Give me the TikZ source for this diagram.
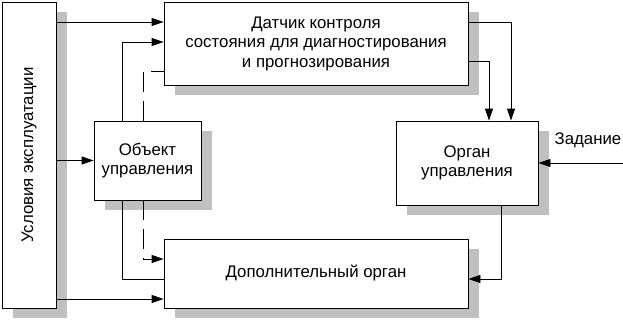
\documentclass[tikz,border=0pt]{standalone}
\usepackage{fontspec}
\setmainfont{Liberation Sans}
\usetikzlibrary{positioning,arrows.meta,shadows}
\definecolor{shadowgray}{RGB}{192,192,192}

\begin{document}
\begin{tikzpicture}[x=1pt,y=1pt,>={Triangle[length=12pt,width=8pt]},line width=0.9pt,
  blok/.style={draw,fill=white,align=center,inner sep=0pt,font=\fontsize{16.8}{19.5}\selectfont,
    drop shadow={shadow xshift=11pt,shadow yshift=-10pt,fill=shadowgray,opacity=1}},
  dashline/.style={dash pattern=on 20pt off 9pt}]
  \useasboundingbox (0,0) rectangle (623,322);
  \node[blok,minimum width=54pt,minimum height=306pt] (usl) at (29,167) {\rotatebox{90}{Условия эксплуатации}};
  \node[blok,minimum width=304pt,minimum height=83pt] (sensor) at (316,278.5) {Датчик контроля\\состояния для диагностирования\\и прогнозирования};
  \node[blok,minimum width=107pt,minimum height=79pt] (obj) at (147.5,161.5) {Объект\\управления};
  \node[blok,minimum width=142pt,minimum height=84pt] (organ) at (467,159) {Орган\\управления};
  \node[blok,minimum width=304pt,minimum height=69pt] (extra) at (316,48.5) {Дополнительный орган};
  % inputs of the sensor
  \draw[->] (usl.east |- 0,300) -- (sensor.west |- 0,300);
  \draw[->] ([xshift=-25.5pt]obj.north) |- (sensor.west |- 0,280);
  \draw[dashline] ([xshift=-4.5pt]obj.north) |- (sensor.west |- 0,251);
  \draw[->] (usl.east |- obj.west) -- (obj.west);
  % inputs of the additional organ
  \draw ([xshift=-25.5pt]obj.south) |- (extra.west |- 0,43);
  \draw[dashline,->] ([xshift=-4.5pt]obj.south) |- (extra.west |- 0,63);
  \draw[->] (usl.east |- 0,23) -- (extra.west |- 0,23);
  % control organ
  \draw[->] (sensor.east |- 0,300) -| ([xshift=44pt]organ.north);
  \draw[->] (sensor.east |- 0,261) -| ([xshift=22pt]organ.north);
  \draw[->] ([xshift=34pt]organ.south) |- (extra.east |- 0,43);
  \coordinate (zad) at (623,159);
  \draw[->] (zad) -- (organ.east);
  \node[font=\fontsize{16.8}{19.5}\selectfont] (zadlbl) at (588,182) {Задание};
\end{tikzpicture}
\end{document}
